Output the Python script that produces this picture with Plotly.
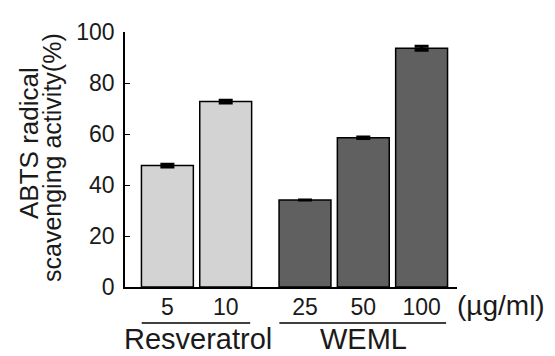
import plotly.graph_objects as go

categories = ["5", "10", "25", "50", "100"]
groups = ["Resveratrol", "WEML"]
values = [47.6, 72.7, 34.1, 58.5, 93.6]
errors = [0.5, 0.5, 0.0, 0.3, 0.8]
y_ticks = [0, 20, 40, 60, 80, 100]

positions = [0, 1, 2.36, 3.36, 4.36]
colors = ["#d3d3d3", "#d3d3d3", "#606060", "#606060", "#606060"]
FONT = "Liberation Sans, Arial, sans-serif"
TXT = "#1a1a1a"

W, H = 555, 356
L, R, T, B = 125, 98, 32, 69

fig = go.Figure()
fig.add_trace(go.Bar(
    x=positions, y=values, width=0.89,
    marker=dict(color=colors, line=dict(color="black", width=1.5)),
    error_y=dict(type="data", array=errors, visible=True, color="black",
                 thickness=3, width=7),
    showlegend=False, hoverinfo="skip",
))

fig.update_layout(
    width=W, height=H,
    margin=dict(l=L, r=R, t=T, b=B, pad=0),
    plot_bgcolor="white", paper_bgcolor="white",
    font=dict(family=FONT, color=TXT),
    xaxis=dict(range=[-0.727, 4.967], tickvals=positions, ticktext=categories,
               showline=True, linecolor="black", linewidth=1.5,
               ticks="", showgrid=False, zeroline=False, automargin=False,
               tickfont=dict(size=23, family=FONT, color=TXT),
               ticklabelstandoff=-1),
    yaxis=dict(range=[0, 100], tickvals=y_ticks,
               showline=True, linecolor="black", linewidth=1.5,
               ticks="inside", ticklen=5, tickwidth=1, tickcolor="black",
               showgrid=False, zeroline=False, automargin=False,
               tickfont=dict(size=23, family=FONT, color=TXT),
               ticklabelstandoff=4),
)

pw = W - L - R
def px_to_paper_x(px):
    return (px - L) / pw
ph = H - T - B
def px_to_paper_y(py):
    return (H - B - py) / ph

# y-axis title, two lines
fig.add_annotation(text="ABTS radical", textangle=-90, xref="paper", yref="paper",
                   x=px_to_paper_x(29), y=px_to_paper_y(143), showarrow=False,
                   xanchor="center", yanchor="middle",
                   font=dict(size=26, family=FONT, color=TXT))
fig.add_annotation(text="scavenging activity(%)", textangle=-90, xref="paper", yref="paper",
                   x=px_to_paper_x(52), y=px_to_paper_y(158), showarrow=False,
                   xanchor="center", yanchor="middle",
                   font=dict(size=25, family=FONT, color=TXT))

# unit label
fig.add_annotation(text="(µg/ml)", xref="paper", yref="paper",
                   x=px_to_paper_x(455), y=px_to_paper_y(305), showarrow=False,
                   xanchor="left", yanchor="middle",
                   font=dict(size=28, family=FONT, color=TXT))

# group underlines and labels
group_spans = [(0, 1), (2, 4)]
for g, (a, b) in zip(groups, group_spans):
    x0 = positions[a] - 0.44
    x1 = positions[b] + 0.42
    fig.add_shape(type="line", xref="x", yref="paper",
                  x0=x0, x1=x1, y0=px_to_paper_y(323), y1=px_to_paper_y(323),
                  line=dict(color="black", width=1.5))
    fig.add_annotation(text=g, xref="x", yref="paper",
                       x=(positions[a] + positions[b]) / 2 + (0.03 if a == 0 else 0),
                       y=px_to_paper_y(339), showarrow=False,
                       xanchor="center", yanchor="middle",
                       font=dict(size=29, family=FONT, color=TXT))

fig.write_html("out.html", config={"displayModeBar": False},
               post_script="document.body.style.margin='0';")
